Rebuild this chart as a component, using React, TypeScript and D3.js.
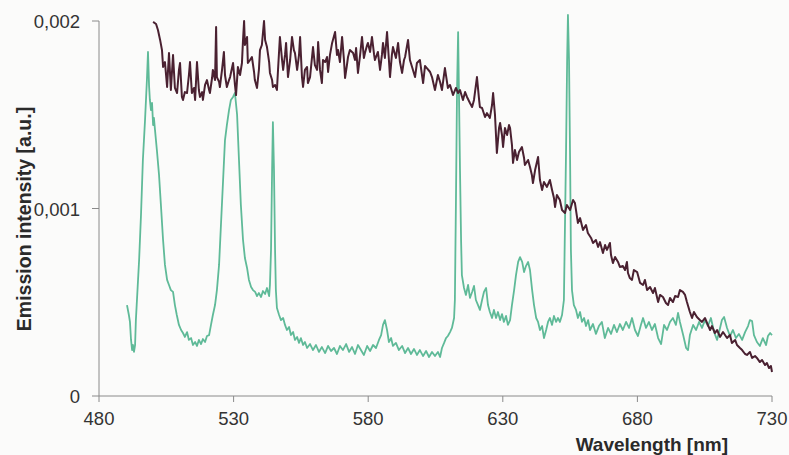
import React, { useRef, useEffect } from "react";
import * as d3 from "d3";

// axis ticks
const xTicks = [480, 530, 580, 630, 680, 730];
const yTicks = [0, 0.001, 0.002];
const yTickLabels = ["0", "0,001", "0,002"];

// spectra: [wavelength nm, intensity in 1e-3 a.u.]
const greenSpectrum: [number, number][] = [
  [490.4, 0.485], [491.1, 0.432], [491.5, 0.395], [491.9, 0.299], [492.3, 0.245], [492.6, 0.272],
  [493.0, 0.235], [493.4, 0.272], [493.7, 0.405], [494.1, 0.512], [494.9, 0.725], [495.6, 0.965],
  [496.3, 1.259], [497.1, 1.472], [497.8, 1.685], [498.2, 1.835], [498.6, 1.653], [498.9, 1.579],
  [499.3, 1.525], [499.7, 1.563], [500.1, 1.445], [500.4, 1.483], [500.8, 1.419], [501.5, 1.312],
  [502.3, 1.179], [503.0, 1.019], [503.8, 0.832], [504.5, 0.699], [505.3, 0.619], [506.0, 0.592],
  [506.7, 0.565], [507.5, 0.555], [508.2, 0.485], [508.9, 0.432], [509.7, 0.379], [510.5, 0.352],
  [511.2, 0.336], [511.9, 0.315], [512.7, 0.341], [513.4, 0.299], [514.2, 0.309], [514.9, 0.272],
  [515.7, 0.288], [516.4, 0.267], [517.1, 0.299], [517.9, 0.277], [518.6, 0.304], [519.4, 0.288],
  [520.1, 0.32], [520.9, 0.325], [521.6, 0.379], [522.3, 0.432], [523.1, 0.485], [523.8, 0.565],
  [524.6, 0.699], [525.3, 0.912], [526.1, 1.152], [526.8, 1.365], [527.5, 1.445], [528.3, 1.525],
  [529.0, 1.579], [529.8, 1.595], [530.5, 1.616], [531.3, 1.499], [532.0, 1.259], [532.7, 1.019],
  [533.5, 0.832], [534.2, 0.736], [535.0, 0.683], [535.7, 0.619], [536.5, 0.581], [537.2, 0.565],
  [538.0, 0.555], [538.7, 0.533], [539.4, 0.549], [540.2, 0.528], [540.9, 0.56], [541.7, 0.544],
  [542.4, 0.576], [543.2, 0.533], [543.5, 0.592], [543.9, 0.779], [544.3, 1.205], [544.6, 1.461],
  [545.0, 1.205], [545.4, 0.779], [545.7, 0.565], [546.1, 0.469], [546.9, 0.432], [547.6, 0.405],
  [548.4, 0.416], [549.1, 0.379], [549.8, 0.352], [550.6, 0.368], [551.3, 0.325], [552.1, 0.341],
  [552.8, 0.299], [553.6, 0.315], [554.3, 0.283], [555.0, 0.309], [555.8, 0.272], [556.5, 0.288],
  [557.3, 0.256], [558.4, 0.277], [559.5, 0.245], [560.6, 0.272], [561.7, 0.235], [562.8, 0.261],
  [564.0, 0.229], [565.1, 0.267], [566.2, 0.24], [567.3, 0.256], [568.4, 0.224], [569.5, 0.267],
  [570.6, 0.245], [571.8, 0.277], [572.9, 0.235], [574.0, 0.261], [575.1, 0.224], [576.2, 0.272],
  [577.3, 0.245], [578.4, 0.219], [579.6, 0.267], [580.7, 0.24], [581.8, 0.272], [582.9, 0.256],
  [584.0, 0.299], [584.8, 0.325], [585.5, 0.379], [586.2, 0.405], [587.0, 0.352], [587.7, 0.288],
  [588.5, 0.309], [589.2, 0.267], [590.3, 0.283], [591.4, 0.245], [592.6, 0.267], [593.7, 0.229],
  [594.8, 0.256], [595.9, 0.224], [597.0, 0.251], [598.1, 0.219], [599.2, 0.245], [600.4, 0.213],
  [601.5, 0.24], [602.6, 0.208], [603.7, 0.235], [604.8, 0.213], [605.9, 0.235], [606.7, 0.208],
  [607.4, 0.256], [608.2, 0.283], [608.9, 0.309], [609.6, 0.32], [610.4, 0.341], [611.1, 0.363],
  [611.9, 0.416], [612.2, 0.512], [612.6, 1.045], [613.0, 1.632], [613.4, 1.941], [613.7, 1.632],
  [614.1, 1.205], [614.5, 0.832], [614.8, 0.645], [615.6, 0.576], [616.3, 0.539], [617.1, 0.592],
  [617.8, 0.523], [618.6, 0.555], [619.3, 0.587], [620.0, 0.512], [620.8, 0.485], [621.5, 0.459],
  [622.3, 0.512], [623.0, 0.555], [623.8, 0.576], [624.5, 0.485], [625.2, 0.448], [626.0, 0.416],
  [626.7, 0.459], [627.5, 0.416], [628.2, 0.448], [629.0, 0.405], [629.7, 0.437], [630.4, 0.395],
  [631.2, 0.427], [631.9, 0.379], [632.7, 0.405], [633.4, 0.485], [634.2, 0.565], [634.9, 0.645],
  [635.7, 0.715], [636.4, 0.741], [637.2, 0.715], [637.9, 0.661], [638.6, 0.693], [639.4, 0.715],
  [640.1, 0.672], [640.9, 0.565], [641.6, 0.485], [642.4, 0.416], [643.1, 0.395], [643.8, 0.352],
  [644.6, 0.373], [645.3, 0.309], [646.1, 0.352], [646.8, 0.395], [647.5, 0.416], [648.3, 0.379],
  [649.0, 0.427], [649.8, 0.395], [650.5, 0.416], [651.2, 0.395], [652.0, 0.432], [652.7, 0.512],
  [653.5, 1.312], [653.9, 1.792], [654.2, 2.032], [654.6, 1.792], [655.0, 1.259], [655.3, 0.779],
  [655.7, 0.565], [656.4, 0.485], [657.2, 0.459], [657.9, 0.416], [658.7, 0.448], [659.4, 0.395],
  [660.2, 0.416], [660.9, 0.373], [661.7, 0.405], [662.4, 0.352], [663.5, 0.384], [664.6, 0.331],
  [665.7, 0.373], [666.8, 0.395], [667.9, 0.309], [669.1, 0.363], [670.2, 0.331], [671.3, 0.379],
  [672.4, 0.341], [673.5, 0.384], [674.6, 0.352], [675.8, 0.395], [676.9, 0.363], [678.0, 0.416],
  [679.1, 0.352], [680.2, 0.32], [681.3, 0.379], [682.1, 0.416], [683.2, 0.363], [684.3, 0.395],
  [685.4, 0.352], [686.5, 0.384], [687.7, 0.309], [688.8, 0.277], [689.9, 0.379], [691.0, 0.352],
  [692.1, 0.395], [693.2, 0.416], [694.3, 0.379], [695.1, 0.443], [695.8, 0.395], [697.0, 0.325],
  [698.1, 0.256], [698.8, 0.245], [699.5, 0.325], [700.7, 0.379], [701.8, 0.352], [702.9, 0.395],
  [704.0, 0.363], [705.1, 0.405], [706.2, 0.373], [707.3, 0.416], [708.5, 0.341], [709.6, 0.299],
  [710.7, 0.363], [711.4, 0.405], [712.2, 0.421], [713.3, 0.363], [714.4, 0.32], [715.5, 0.352],
  [716.6, 0.309], [717.7, 0.331], [718.9, 0.299], [720.0, 0.341], [721.1, 0.373], [721.8, 0.405],
  [722.6, 0.4], [723.3, 0.325], [724.4, 0.288], [725.5, 0.267], [726.6, 0.309], [727.8, 0.272],
  [728.5, 0.32], [729.3, 0.336], [730.0, 0.325],
];

const darkSpectrum: [number, number][] = [
  [500.1, 1.995], [501.2, 1.984], [501.9, 1.952], [502.7, 1.899], [503.4, 1.845], [503.8, 1.755],
  [504.5, 1.781], [505.3, 1.648], [506.0, 1.829], [506.7, 1.632], [507.5, 1.819], [508.2, 1.643],
  [509.0, 1.616], [509.7, 1.739], [510.1, 1.776], [510.8, 1.595], [511.2, 1.579], [511.9, 1.621],
  [512.7, 1.616], [513.4, 1.712], [513.8, 1.781], [514.5, 1.616], [515.3, 1.643], [515.7, 1.579],
  [516.4, 1.781], [517.1, 1.632], [517.5, 1.595], [518.3, 1.621], [518.6, 1.579], [519.4, 1.659],
  [520.1, 1.685], [520.9, 1.632], [521.2, 1.616], [522.0, 1.696], [522.3, 1.739], [523.1, 1.685],
  [523.5, 1.968], [523.8, 1.701], [524.6, 1.675], [524.9, 1.648], [525.7, 1.739], [526.4, 1.835],
  [526.8, 1.712], [527.5, 1.648], [528.3, 1.685], [528.7, 1.701], [529.4, 1.749], [529.8, 1.776],
  [530.5, 1.659], [530.9, 1.605], [531.6, 1.755], [532.4, 1.712], [533.1, 1.776], [533.5, 1.899],
  [533.9, 2.0], [534.2, 1.872], [535.0, 1.915], [535.3, 1.776], [536.1, 1.792], [536.8, 1.808],
  [537.6, 1.728], [537.9, 1.685], [538.7, 1.643], [539.4, 1.739], [539.8, 1.845], [540.5, 1.872],
  [541.3, 2.0], [541.7, 1.899], [542.4, 1.861], [543.2, 1.781], [543.5, 1.723], [544.3, 1.685],
  [544.6, 1.648], [545.4, 1.659], [546.1, 1.632], [546.5, 1.739], [547.2, 1.915], [548.0, 1.792],
  [548.4, 1.739], [549.1, 1.819], [549.5, 1.883], [550.2, 1.701], [551.0, 1.792], [551.7, 1.915],
  [552.4, 1.845], [552.8, 1.829], [553.6, 1.739], [554.3, 1.819], [554.7, 1.915], [555.4, 1.701],
  [555.8, 1.648], [556.5, 1.739], [557.3, 1.755], [557.6, 1.669], [558.4, 1.701], [559.5, 1.861],
  [560.2, 1.765], [561.0, 1.739], [561.4, 1.888], [562.1, 1.739], [562.8, 1.669], [563.2, 1.792],
  [564.0, 1.781], [564.7, 1.808], [565.1, 1.728], [565.8, 1.819], [566.6, 1.883], [567.7, 1.941],
  [568.4, 1.819], [568.8, 1.845], [569.5, 1.781], [570.3, 1.915], [571.0, 1.792], [571.4, 1.696],
  [572.1, 1.765], [572.5, 1.808], [573.2, 1.845], [574.4, 1.829], [575.1, 1.792], [575.5, 1.856],
  [576.2, 1.723], [577.0, 1.819], [577.7, 1.915], [578.4, 1.803], [578.8, 1.829], [579.6, 1.872],
  [579.9, 1.883], [580.7, 1.835], [581.4, 1.915], [582.2, 1.819], [582.5, 1.792], [583.6, 1.835],
  [584.4, 1.739], [585.1, 1.819], [585.5, 1.883], [586.2, 1.803], [587.0, 1.941], [587.7, 1.792],
  [588.1, 1.701], [588.8, 1.819], [589.2, 1.861], [590.3, 1.803], [591.1, 1.883], [591.8, 1.781],
  [592.6, 1.723], [593.3, 1.792], [593.7, 1.808], [594.8, 1.899], [595.5, 1.792], [596.3, 1.755],
  [597.4, 1.701], [598.1, 1.776], [599.2, 1.792], [600.4, 1.669], [601.1, 1.76], [601.8, 1.749],
  [603.0, 1.728], [603.7, 1.701], [604.8, 1.632], [605.9, 1.712], [606.7, 1.675], [607.4, 1.632],
  [608.5, 1.749], [609.6, 1.643], [610.4, 1.659], [611.5, 1.605], [612.6, 1.643], [613.4, 1.616],
  [614.1, 1.632], [615.2, 1.579], [616.0, 1.621], [616.7, 1.595], [617.8, 1.563], [618.6, 1.541],
  [619.3, 1.579], [620.4, 1.701], [621.2, 1.579], [621.5, 1.541], [622.3, 1.536], [623.4, 1.488],
  [624.1, 1.509], [625.2, 1.483], [626.0, 1.552], [626.4, 1.616], [627.1, 1.499], [627.8, 1.296],
  [628.6, 1.429], [629.0, 1.456], [629.7, 1.392], [630.1, 1.328], [630.8, 1.429], [631.6, 1.392],
  [632.3, 1.445], [632.7, 1.429], [633.4, 1.339], [633.8, 1.243], [634.5, 1.312], [635.3, 1.259],
  [636.0, 1.301], [637.1, 1.328], [637.9, 1.269], [638.2, 1.232], [639.4, 1.259], [640.1, 1.221],
  [640.8, 1.179], [641.2, 1.136], [642.0, 1.205], [643.1, 1.275], [643.8, 1.152], [644.6, 1.099],
  [645.3, 1.141], [646.4, 1.115], [647.5, 1.152], [648.3, 1.099], [649.0, 1.056], [649.4, 1.008],
  [650.1, 1.072], [651.2, 1.045], [652.0, 0.992], [653.1, 0.976], [653.8, 1.019], [655.0, 0.992],
  [656.1, 1.045], [656.8, 1.029], [657.9, 0.923], [658.7, 0.949], [659.8, 0.885], [660.9, 0.912],
  [661.6, 0.869], [662.8, 0.843], [663.5, 0.816], [664.6, 0.832], [665.4, 0.795], [666.1, 0.821],
  [667.2, 0.763], [668.0, 0.805], [668.7, 0.779], [669.8, 0.816], [670.2, 0.752], [670.9, 0.709],
  [671.7, 0.741], [672.8, 0.715], [673.5, 0.688], [674.6, 0.693], [675.4, 0.672], [676.1, 0.715],
  [676.5, 0.656], [677.2, 0.629], [678.0, 0.619], [678.7, 0.672], [679.9, 0.661], [681.0, 0.603],
  [682.1, 0.592], [682.8, 0.619], [683.6, 0.565], [684.7, 0.581], [685.8, 0.549], [686.5, 0.576],
  [687.7, 0.501], [688.4, 0.539], [689.5, 0.528], [690.6, 0.496], [691.4, 0.485], [692.1, 0.523],
  [693.2, 0.501], [694.0, 0.533], [695.1, 0.528], [695.8, 0.565], [696.9, 0.555], [697.7, 0.539],
  [698.4, 0.501], [699.5, 0.448], [700.3, 0.416], [701.0, 0.448], [702.1, 0.421], [703.2, 0.405],
  [704.0, 0.395], [705.1, 0.416], [705.9, 0.389], [707.0, 0.352], [707.7, 0.373], [708.8, 0.336],
  [709.6, 0.352], [710.7, 0.315], [711.8, 0.341], [713.3, 0.309], [714.4, 0.325], [715.1, 0.283],
  [716.3, 0.299], [717.0, 0.272], [718.1, 0.256], [718.9, 0.245], [720.0, 0.224], [720.7, 0.219],
  [721.8, 0.235], [722.6, 0.203], [723.7, 0.213], [724.4, 0.203], [725.5, 0.181], [726.3, 0.192],
  [727.4, 0.165], [728.1, 0.176], [728.9, 0.149], [729.6, 0.16], [730.0, 0.128],
];

const UNIT = 1e-3;

function App() {
  const svgRef = useRef<SVGSVGElement>(null);

  useEffect(() => {
    const width = 789,
      height = 455;
    const left = 99,
      right = 772,
      top = 21,
      bottom = 396;

    const x = d3.scaleLinear().domain([480, 730]).range([left, right]);
    const y = d3.scaleLinear().domain([0, 0.002]).range([bottom, top]);

    const svg = d3.select(svgRef.current);
    svg.selectAll("*").remove();
    svg.attr("width", width).attr("height", height);

    svg.append("rect").attr("width", width).attr("height", height).attr("fill", "#fbfbfa");

    const font = "'Liberation Sans', Arial, sans-serif";

    // axes
    const axisColor = "#8a8a8a";
    const xAxis = svg.append("g").attr("transform", `translate(0,${bottom})`);
    xAxis.append("line").attr("x1", left).attr("x2", right).attr("stroke", axisColor);
    xAxis
      .selectAll("line.tick")
      .data(xTicks)
      .join("line")
      .attr("class", "tick")
      .attr("x1", (d) => x(d))
      .attr("x2", (d) => x(d))
      .attr("y1", 0)
      .attr("y2", 6)
      .attr("stroke", axisColor);
    xAxis
      .selectAll("text")
      .data(xTicks)
      .join("text")
      .attr("x", (d) => x(d))
      .attr("y", 29)
      .attr("text-anchor", "middle")
      .attr("font-family", font)
      .attr("font-size", 18.5)
      .attr("fill", "#333")
      .text((d) => d);

    const yAxis = svg.append("g").attr("transform", `translate(${left},0)`);
    yAxis.append("line").attr("y1", top).attr("y2", bottom).attr("stroke", axisColor);
    yAxis
      .selectAll("line.tick")
      .data(yTicks)
      .join("line")
      .attr("class", "tick")
      .attr("x1", -7)
      .attr("x2", 0)
      .attr("y1", (d) => y(d))
      .attr("y2", (d) => y(d))
      .attr("stroke", axisColor);
    yAxis
      .selectAll("text")
      .data(yTicks)
      .join("text")
      .attr("x", -19)
      .attr("y", (d) => y(d) + 7)
      .attr("text-anchor", "end")
      .attr("font-family", font)
      .attr("font-size", 18.5)
      .attr("fill", "#333")
      .text((d, i) => yTickLabels[i]);

    // titles
    svg
      .append("text")
      .attr("x", 728)
      .attr("y", 451)
      .attr("text-anchor", "end")
      .attr("font-family", font)
      .attr("font-weight", "bold")
      .attr("font-size", 19)
      .attr("fill", "#2a2a2a")
      .text("Wavelength [nm]");

    svg
      .append("text")
      .attr("transform", "translate(31,219) rotate(-90)")
      .attr("text-anchor", "middle")
      .attr("font-family", font)
      .attr("font-weight", "bold")
      .attr("font-size", 19.5)
      .attr("fill", "#2a2a2a")
      .text("Emission intensity [a.u.]");

    const line = d3
      .line<[number, number]>()
      .x((d) => x(d[0]))
      .y((d) => y(d[1] * UNIT));

    svg
      .append("path")
      .datum(greenSpectrum)
      .attr("d", line)
      .attr("fill", "none")
      .attr("stroke", "#5fba98")
      .attr("stroke-width", 1.8)
      .attr("stroke-linejoin", "round");

    svg
      .append("path")
      .datum(darkSpectrum)
      .attr("d", line)
      .attr("fill", "none")
      .attr("stroke", "#4a2131")
      .attr("stroke-width", 2)
      .attr("stroke-linejoin", "round");
  }, []);

  return (
    <svg
      ref={svgRef}
      style={{ position: "absolute", left: 0, top: 0, display: "block" }}
    />
  );
}

export default App;
